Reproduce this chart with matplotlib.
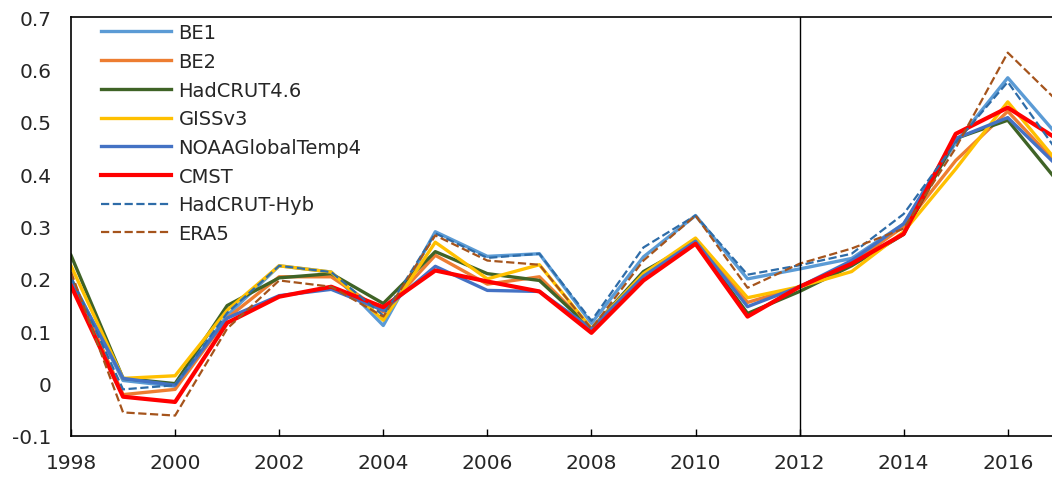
import matplotlib.pyplot as plt
from matplotlib.ticker import FuncFormatter

plt.rcParams['font.family'] = ['DejaVu Sans']
plt.rcParams['text.color'] = '#262626'

years = list(range(1998, 2018))

be1 = [0.200, 0.006, -0.005, 0.130, 0.225, 0.213, 0.111, 0.290, 0.243, 0.248,
       0.115, 0.242, 0.321, 0.200, 0.219, 0.239, 0.305, 0.460, 0.584, 0.469]
be2 = [0.200, -0.021, -0.011, 0.125, 0.204, 0.204, 0.137, 0.245, 0.190, 0.204,
       0.105, 0.210, 0.272, 0.155, 0.185, 0.230, 0.300, 0.426, 0.520, 0.414]
hadcrut46 = [0.245, 0.010, 0.000, 0.149, 0.202, 0.210, 0.153, 0.252, 0.210, 0.197,
             0.105, 0.214, 0.270, 0.134, 0.176, 0.225, 0.285, 0.468, 0.503, 0.381]
giss = [0.225, 0.010, 0.015, 0.140, 0.225, 0.213, 0.121, 0.270, 0.200, 0.227,
        0.105, 0.210, 0.278, 0.164, 0.185, 0.214, 0.290, 0.410, 0.538, 0.418]
noaa = [0.197, 0.010, -0.003, 0.125, 0.168, 0.180, 0.140, 0.224, 0.178, 0.176,
        0.105, 0.205, 0.272, 0.147, 0.185, 0.235, 0.305, 0.468, 0.508, 0.411]
cmst = [0.187, -0.025, -0.035, 0.116, 0.166, 0.185, 0.146, 0.216, 0.195, 0.176,
        0.097, 0.197, 0.267, 0.128, 0.185, 0.229, 0.286, 0.477, 0.527, 0.464]
hadcrut_hyb = [0.204, -0.011, -0.003, 0.135, 0.225, 0.213, 0.130, 0.287, 0.240, 0.248,
               0.120, 0.260, 0.321, 0.208, 0.226, 0.248, 0.324, 0.460, 0.576, 0.437]
era5 = [0.213, -0.055, -0.061, 0.105, 0.197, 0.185, 0.128, 0.283, 0.235, 0.227,
        0.105, 0.235, 0.321, 0.183, 0.229, 0.258, 0.296, 0.450, 0.632, 0.535]

series = [
    ("BE1", be1, "#5B9BD5", "-", 2.4),
    ("BE2", be2, "#ED7D31", "-", 2.4),
    ("HadCRUT4.6", hadcrut46, "#3F6326", "-", 2.4),
    ("GISSv3", giss, "#FFC000", "-", 2.4),
    ("NOAAGlobalTemp4", noaa, "#4472C4", "-", 2.4),
    ("CMST", cmst, "#FF0000", "-", 3.0),
    ("HadCRUT-Hyb", hadcrut_hyb, "#2E6CA8", "--", 1.6),
    ("ERA5", era5, "#A5541C", "--", 1.6),
]

fig = plt.figure(figsize=(10.52, 4.81), dpi=100)
ax = fig.add_axes([0.0675, 0.0915, 0.9325, 0.871])

for name, vals, color, ls, lw in series:
    ax.plot(years, vals, color=color, linestyle=ls, linewidth=lw, label=name)

ax.axvline(2012, color="black", linewidth=1.0)

ax.set_xlim(1998, 2016.85)
ax.set_ylim(-0.1, 0.7)
ax.set_xticks(range(1998, 2017, 2))
ax.set_yticks([-0.1, 0, 0.1, 0.2, 0.3, 0.4, 0.5, 0.6, 0.7])
ax.yaxis.set_major_formatter(FuncFormatter(lambda v, p: f"{round(v, 1):g}"))
ax.tick_params(axis="x", direction="in", length=5, width=1, labelsize=14.5,
               pad=12, labelcolor="#262626")
ax.tick_params(axis="y", length=0, labelsize=14.5, pad=14, labelcolor="#262626")
ax.spines["right"].set_visible(False)
for s in ("left", "top", "bottom"):
    ax.spines[s].set_linewidth(1.2)

ax.legend(loc="upper left", bbox_to_anchor=(0.0865, 0.97), bbox_transform=fig.transFigure,
          frameon=False, fontsize=14, handlelength=3.6, handletextpad=0.4,
          labelspacing=0.5, borderpad=0)

fig.savefig("out.png", dpi=100)
